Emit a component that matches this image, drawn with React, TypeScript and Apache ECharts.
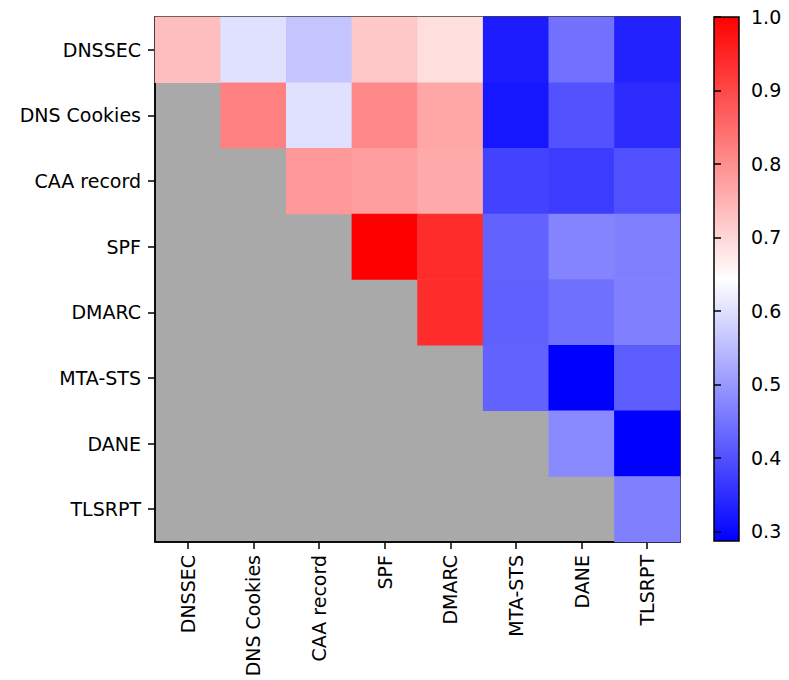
import React, { useEffect, useRef } from "react";
import * as echarts from "echarts";

const categories = ["DNSSEC", "DNS Cookies", "CAA record", "SPF", "DMARC", "MTA-STS", "DANE", "TLSRPT"];

// Upper-triangular rows: each row starts at its own diagonal column
const rowDNSSEC = [0.734, 0.6, 0.561, 0.72, 0.69, 0.326, 0.446, 0.334];
const rowDNSCookies = [0.821, 0.6, 0.81, 0.768, 0.318, 0.401, 0.349];
const rowCAA = [0.787, 0.779, 0.762, 0.379, 0.371, 0.399];
const rowSPF = [1.0, 0.938, 0.424, 0.472, 0.466];
const rowDMARC = [0.938, 0.421, 0.444, 0.466];
const rowMTASTS = [0.424, 0.287, 0.416];
const rowDANE = [0.48, 0.287];
const rowTLSRPT = [0.466];

const colorMin = 0.287;
const colorMax = 1.0;
const colorbarTicks = [0.3, 0.4, 0.5, 0.6, 0.7, 0.8, 0.9, 1.0];

const FONT = "DejaVu Sans";

export default function App() {
  const ref = useRef<HTMLDivElement>(null);

  useEffect(() => {
    document.body.style.margin = "0";
    if (!ref.current) return;
    const chart = echarts.init(ref.current, null, { renderer: "svg" });

    const rows = [rowDNSSEC, rowDNSCookies, rowCAA, rowSPF, rowDMARC, rowMTASTS, rowDANE, rowTLSRPT];
    const data: [number, number, number][] = [];
    rows.forEach((r, i) => r.forEach((v, k) => data.push([i + k, i, v])));

    const axisLineStyle = { color: "#000", width: 1.5 };

    chart.setOption({
      animation: false,
      textStyle: { fontFamily: FONT },
      grid: [
        {
          left: 155,
          top: 17,
          width: 525,
          height: 525,
          show: true,
          backgroundColor: "#a9a9a9",
          borderColor: "#000",
          borderWidth: 1.5,
          outerBoundsMode: "none",
        },
        {
          left: 714,
          top: 17,
          width: 25,
          height: 524,
          show: true,
          backgroundColor: {
            type: "linear",
            x: 0,
            y: 0,
            x2: 0,
            y2: 1,
            colorStops: [
              { offset: 0, color: "#ff0000" },
              { offset: 0.5, color: "#ffffff" },
              { offset: 1, color: "#0000ff" },
            ],
          },
          borderColor: "#000",
          borderWidth: 1.5,
          outerBoundsMode: "none",
        },
      ],
      xAxis: [
        {
          type: "category",
          gridIndex: 0,
          data: categories,
          position: "bottom",
          axisLine: { show: true, lineStyle: axisLineStyle },
          axisTick: { show: true, alignWithLabel: true, length: 7, lineStyle: axisLineStyle },
          axisLabel: { rotate: 90, margin: 13, color: "#000", fontSize: 19, fontFamily: FONT, interval: 0 },
          splitLine: { show: false },
        },
        {
          type: "value",
          gridIndex: 1,
          show: false,
          min: 0,
          max: 1,
        },
      ],
      yAxis: [
        {
          type: "category",
          gridIndex: 0,
          data: categories,
          inverse: true,
          axisLine: { show: true, lineStyle: axisLineStyle },
          axisTick: { show: true, alignWithLabel: true, length: 7, lineStyle: axisLineStyle },
          axisLabel: { margin: 14, color: "#000", fontSize: 19, fontFamily: FONT, interval: 0 },
          splitLine: { show: false },
        },
        {
          type: "value",
          gridIndex: 1,
          position: "right",
          min: colorMin,
          max: colorMax,
          axisLine: { show: false },
          axisTick: { show: true, length: 7, lineStyle: axisLineStyle, customValues: colorbarTicks },
          axisLabel: {
            margin: 12,
            color: "#000",
            fontSize: 19,
            fontFamily: FONT,
            customValues: colorbarTicks,
            formatter: (v: number) => v.toFixed(1),
          },
          splitLine: { show: false },
        },
      ],
      visualMap: {
        type: "continuous",
        show: false,
        min: colorMin,
        max: colorMax,
        seriesIndex: 0,
        inRange: { color: ["#0000ff", "#ffffff", "#ff0000"] },
      },
      series: [
        {
          type: "heatmap",
          xAxisIndex: 0,
          yAxisIndex: 0,
          data,
          itemStyle: { borderWidth: 0 },
          emphasis: { disabled: true },
        },
        {
          type: "scatter",
          xAxisIndex: 1,
          yAxisIndex: 1,
          data: [],
        },
      ],
    });

    return () => chart.dispose();
  }, []);

  return <div ref={ref} style={{ width: 789, height: 680 }} />;
}
